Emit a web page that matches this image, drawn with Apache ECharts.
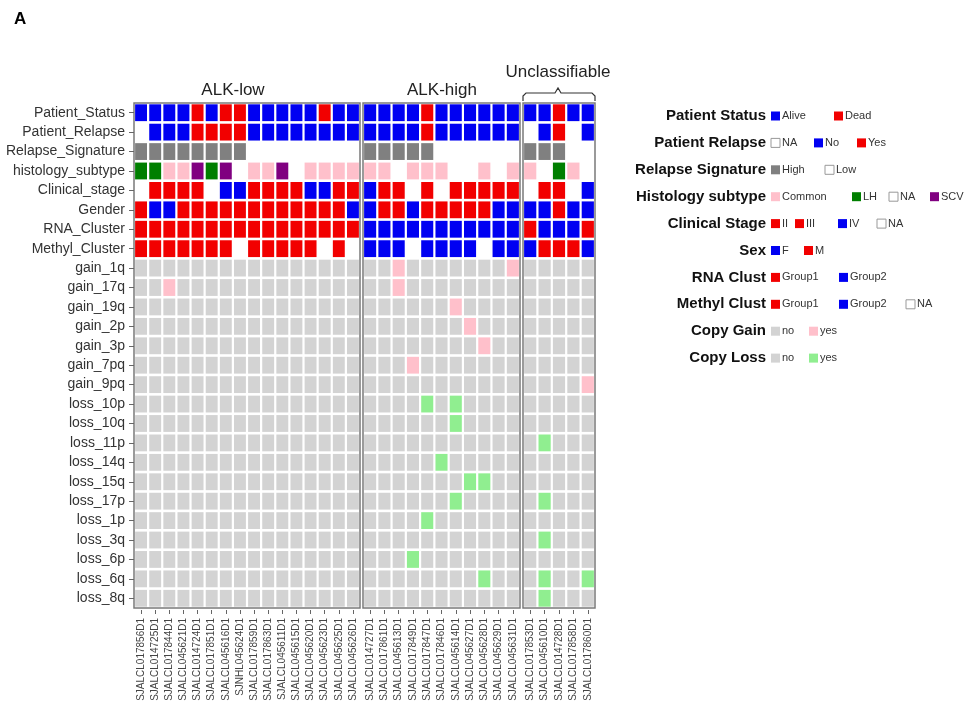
<!DOCTYPE html>
<html><head><meta charset="utf-8">
<script src="https://cdn.jsdelivr.net/npm/echarts@6/dist/echarts.min.js"></script>
<style>html,body{margin:0;padding:0;background:#fff}#c{width:974px;height:706px}</style>
</head><body><div id="c"></div>
<script>
// ---------------- DATA ----------------
const samplesLow = ['SJALCL017856D1','SJALCL014725D1','SJALCL017844D1','SJALCL045621D1','SJALCL014724D1','SJALCL017851D1','SJALCL045616D1','SJNHL045624D1','SJALCL017859D1','SJALCL017863D1','SJALCL045611D1','SJALCL045615D1','SJALCL045620D1','SJALCL045623D1','SJALCL045625D1','SJALCL045626D1'];
const samplesHigh = ['SJALCL014727D1','SJALCL017861D1','SJALCL045613D1','SJALCL017849D1','SJALCL017847D1','SJALCL017846D1','SJALCL045614D1','SJALCL045627D1','SJALCL045628D1','SJALCL045629D1','SJALCL045631D1'];
const samplesUnc = ['SJALCL017853D1','SJALCL045610D1','SJALCL014728D1','SJALCL017858D1','SJALCL017860D1'];
const groupNames = ['ALK-low','ALK-high','Unclassifiable'];

const clinicalRows = ['Patient_Status','Patient_Relapse','Relapse_Signature','histology_subtype','Clinical_stage','Gender','RNA_Cluster','Methyl_Cluster'];
const gainRows = ['gain_1q','gain_17q','gain_19q','gain_2p','gain_3p','gain_7pq','gain_9pq'];
const lossRows = ['loss_10p','loss_10q','loss_11p','loss_14q','loss_15q','loss_17p','loss_1p','loss_3q','loss_6p','loss_6q','loss_8q'];

// clinical values, sample order: ALK-low | ALK-high | Unclassifiable
const patientStatus = ['Alive','Alive','Alive','Alive','Dead','Alive','Dead','Dead','Alive','Alive','Alive','Alive','Alive','Dead','Alive','Alive',
  'Alive','Alive','Alive','Alive','Dead','Alive','Alive','Alive','Alive','Alive','Alive',
  'Alive','Alive','Dead','Alive','Alive'];
const patientRelapse = ['NA','No','No','No','Yes','Yes','Yes','Yes','No','No','No','No','No','No','No','No',
  'No','No','No','No','Yes','No','No','No','No','No','No',
  'NA','No','Yes','NA','No'];
const relapseSignature = ['High','High','High','High','High','High','High','High','Low','Low','Low','Low','Low','Low','Low','Low',
  'High','High','High','High','High','Low','Low','Low','Low','Low','Low',
  'High','High','High','Low','Low'];
const histologySubtype = ['LH','LH','Common','Common','SCV','LH','SCV','NA','Common','Common','SCV','NA','Common','Common','Common','Common',
  'Common','Common','NA','Common','Common','Common','NA','NA','Common','NA','Common',
  'Common','NA','LH','Common','NA'];
const clinicalStage = ['NA','II','II','II','II','NA','IV','IV','II','II','II','II','IV','IV','II','II',
  'IV','II','II','NA','II','NA','II','II','II','II','II',
  'NA','II','II','NA','IV'];
const gender = ['M','F','F','M','M','M','M','M','M','M','M','M','M','M','M','F',
  'F','M','M','F','M','M','M','M','M','F','F',
  'F','F','M','F','F'];
const rnaCluster = ['Group1','Group1','Group1','Group1','Group1','Group1','Group1','Group1','Group1','Group1','Group1','Group1','Group1','Group1','Group1','Group1',
  'Group2','Group2','Group2','Group2','Group2','Group2','Group2','Group2','Group2','Group2','Group2',
  'Group1','Group2','Group2','Group2','Group1'];
const methylCluster = ['Group1','Group1','Group1','Group1','Group1','Group1','Group1','NA','Group1','Group1','Group1','Group1','Group1','NA','Group1','NA',
  'Group2','Group2','Group2','NA','Group2','Group2','Group2','Group2','NA','Group2','Group2',
  'Group2','Group1','Group1','Group1','Group2'];

// copy-number events: samples with "yes"
const gain_1q = ['SJALCL045613D1','SJALCL045631D1'];
const gain_17q = ['SJALCL017844D1','SJALCL045613D1'];
const gain_19q = ['SJALCL045614D1'];
const gain_2p = ['SJALCL045627D1'];
const gain_3p = ['SJALCL045628D1'];
const gain_7pq = ['SJALCL017849D1'];
const gain_9pq = ['SJALCL017860D1'];
const loss_10p = ['SJALCL017847D1','SJALCL045614D1'];
const loss_10q = ['SJALCL045614D1'];
const loss_11p = ['SJALCL045610D1'];
const loss_14q = ['SJALCL017846D1'];
const loss_15q = ['SJALCL045627D1','SJALCL045628D1'];
const loss_17p = ['SJALCL045614D1','SJALCL045610D1'];
const loss_1p = ['SJALCL017847D1'];
const loss_3q = ['SJALCL045610D1'];
const loss_6p = ['SJALCL017849D1'];
const loss_6q = ['SJALCL045628D1','SJALCL045610D1','SJALCL017860D1'];
const loss_8q = ['SJALCL045610D1'];

// ---------------- STYLES ----------------
const BLUE = '#0000F2', RED = '#F20000';
const palette = {
  Patient_Status: {Alive: BLUE, Dead: RED},
  Patient_Relapse: {NA: null, No: BLUE, Yes: RED},
  Relapse_Signature: {High: '#808080', Low: null},
  histology_subtype: {Common: '#FFC0CB', LH: '#007F00', NA: null, SCV: '#800080'},
  Clinical_stage: {II: RED, III: RED, IV: BLUE, NA: null},
  Gender: {F: BLUE, M: RED},
  RNA_Cluster: {Group1: RED, Group2: BLUE},
  Methyl_Cluster: {Group1: RED, Group2: BLUE, NA: null},
  gain: {no: '#D3D3D3', yes: '#FFC0CB'},
  loss: {no: '#D3D3D3', yes: '#90EE90'}
};
const legendSpec = [
  ['Patient Status', 'Patient_Status', ['Alive','Dead'], [0, 63]],
  ['Patient Relapse', 'Patient_Relapse', ['NA','No','Yes'], [0, 43, 86]],
  ['Relapse Signature', 'Relapse_Signature', ['High','Low'], [0, 54]],
  ['Histology subtype', 'histology_subtype', ['Common','LH','NA','SCV'], [0, 81, 118, 159]],
  ['Clinical Stage', 'Clinical_stage', ['II','III','IV','NA'], [0, 24, 67, 106]],
  ['Sex', 'Gender', ['F','M'], [0, 33]],
  ['RNA Clust', 'RNA_Cluster', ['Group1','Group2'], [0, 68]],
  ['Methyl Clust', 'Methyl_Cluster', ['Group1','Group2','NA'], [0, 68, 135]],
  ['Copy Gain', 'gain', ['no','yes'], [0, 38]],
  ['Copy Loss', 'loss', ['no','yes'], [0, 38]]
];

// ---------------- BUILD ----------------
const rowNames = clinicalRows.concat(gainRows, lossRows);
const clinicalValues = [patientStatus, patientRelapse, relapseSignature, histologySubtype, clinicalStage, gender, rnaCluster, methylCluster];
const copyLists = {gain_1q, gain_17q, gain_19q, gain_2p, gain_3p, gain_7pq, gain_9pq,
  loss_10p, loss_10q, loss_11p, loss_14q, loss_15q, loss_17p, loss_1p, loss_3q, loss_6p, loss_6q, loss_8q};

function cellColor(rowIdx, sample, globalIdx) {
  const rn = rowNames[rowIdx];
  if (rowIdx < clinicalRows.length) return palette[rn][clinicalValues[rowIdx][globalIdx]];
  const kind = rn.startsWith('gain') ? 'gain' : 'loss';
  return palette[kind][copyLists[rn].includes(sample) ? 'yes' : 'no'];
}

const panels = [samplesLow, samplesHigh, samplesUnc];
const gridBoxes = [
  {left: 134, width: 226},
  {left: 363, width: 157},
  {left: 523, width: 72}
];
const FONT = '"Liberation Sans", Arial, sans-serif';

const grids = [], xAxes = [], yAxes = [], series = [];
let offset = 0;
panels.forEach((samples, p) => {
  grids.push({left: gridBoxes[p].left, width: gridBoxes[p].width, top: 103, height: 505,
    show: true, borderColor: '#7a7a7a', borderWidth: 1.5, backgroundColor: 'transparent'});
  xAxes.push({gridIndex: p, type: 'category', data: samples, offset: 2,
    axisLine: {show: false},
    axisTick: {show: true, alignWithLabel: true, length: 4, lineStyle: {color: '#666'}},
    axisLabel: {rotate: 90, interval: 0, fontSize: 10, color: '#444', margin: 8, fontFamily: FONT},
    splitLine: {show: false}});
  yAxes.push({gridIndex: p, type: 'category', data: rowNames, inverse: true, show: p === 0,
    axisLine: {show: false},
    axisTick: {show: true, alignWithLabel: true, length: 5, lineStyle: {color: '#666'}},
    axisLabel: {fontSize: 14, color: '#333', margin: 9, interval: 0, fontFamily: FONT},
    splitLine: {show: false}});
  const items = [];
  samples.forEach((s, i) => {
    rowNames.forEach((r, j) => {
      const c = cellColor(j, s, offset + i);
      if (c) items.push({value: [i, j], color: c});
    });
  });
  offset += samples.length;
  series.push({
    type: 'custom', xAxisIndex: p, yAxisIndex: p, silent: true,
    encode: {x: 0, y: 1},
    data: items.map(d => d.value),
    renderItem: function (params, api) {
      const pt = api.coord([api.value(0), api.value(1)]);
      const sz = api.size([1, 1]);
      const w = sz[0] - 2.2, h = sz[1] - 2.6;
      return {type: 'rect', shape: {x: pt[0] - w / 2, y: pt[1] - h / 2, width: w, height: h},
        style: {fill: items[params.dataIndex].color}};
    }
  });
});

// decorations
const graphics = [];
graphics.push({type: 'text', x: 14, y: 11, style: {text: 'A', font: 'bold 17px ' + FONT, fill: '#000'}});
const titleStyle = {font: '17px ' + FONT, fill: '#222', textAlign: 'center', textVerticalAlign: 'middle', verticalAlign: 'middle'};
graphics.push({type: 'text', x: 233, y: 90, style: Object.assign({text: groupNames[0]}, titleStyle)});
graphics.push({type: 'text', x: 442, y: 90, style: Object.assign({text: groupNames[1]}, titleStyle)});
graphics.push({type: 'text', x: 558, y: 72, style: Object.assign({text: groupNames[2]}, titleStyle)});
graphics.push({type: 'polyline', shape: {points: [[523, 101], [523, 96], [526, 93], [555, 93], [558, 88], [561, 93], [592, 93], [595, 96], [595, 101]]},
  style: {stroke: '#333', lineWidth: 1.2, fill: null}});

legendSpec.forEach((g, k) => {
  const y = 116 + k * 26.9;
  graphics.push({type: 'text', x: 766, y: y, style: {text: g[0], font: 'bold 15px ' + FONT, fill: '#111',
    textAlign: 'right', textVerticalAlign: 'middle', verticalAlign: 'middle'}});
  g[2].forEach((lab, m) => {
    const x = 771 + g[3][m];
    const col = palette[g[1]][lab];
    graphics.push({type: 'rect', shape: {x: x, y: y - 4.5, width: 9, height: 9},
      style: {fill: col || '#fff', stroke: col ? col : '#999', lineWidth: col ? 0 : 1}});
    graphics.push({type: 'text', x: x + 11, y: y, style: {text: lab, font: '11px ' + FONT, fill: '#333',
      textAlign: 'left', textVerticalAlign: 'middle', verticalAlign: 'middle'}});
  });
});

const chart = echarts.init(document.getElementById('c'), null, {renderer: 'canvas'});
chart.setOption({
  animation: false,
  backgroundColor: '#fff',
  grid: grids, xAxis: xAxes, yAxis: yAxes, series: series,
  graphic: graphics
});
</script></body></html>
